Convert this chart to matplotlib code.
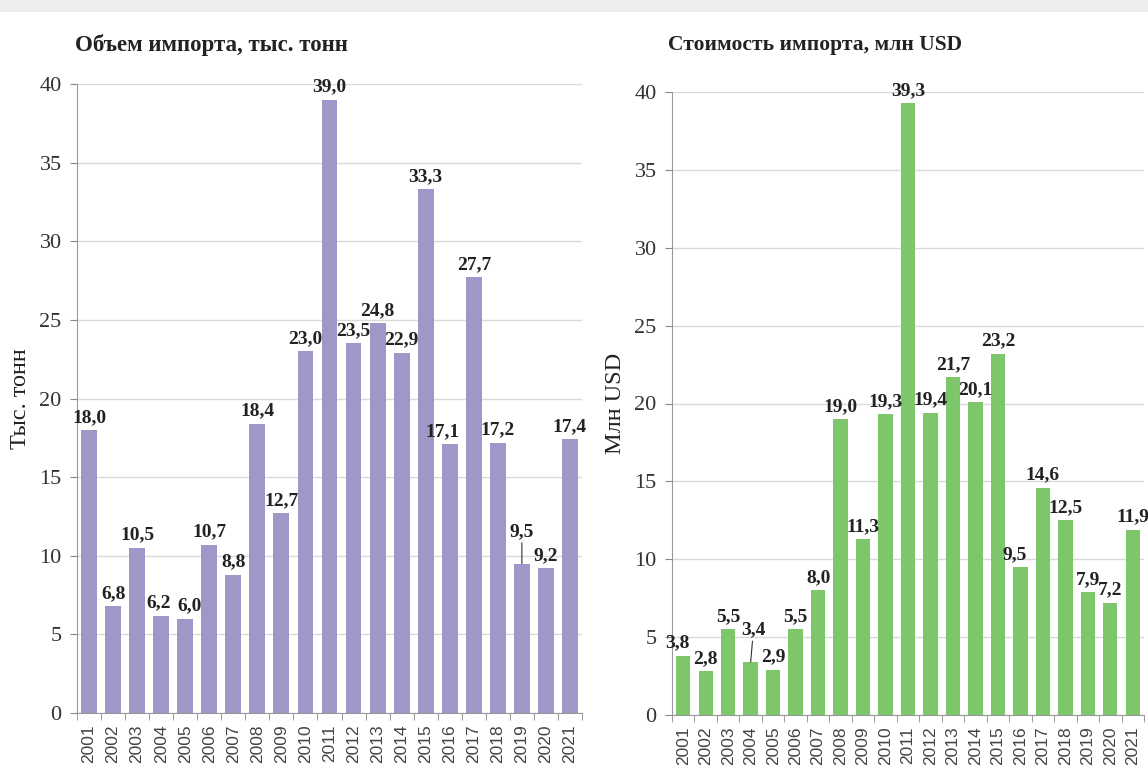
import matplotlib
matplotlib.use("Agg")
import matplotlib.pyplot as plt
from matplotlib.patches import Rectangle
import numpy as np

years = [str(y) for y in range(2001, 2022)]
volume = [18.0, 6.8, 10.5, 6.2, 6.0, 10.7, 8.8, 18.4, 12.7, 23.0, 39.0,
          23.5, 24.8, 22.9, 33.3, 17.1, 27.7, 17.2, 9.5, 9.2, 17.4]
value = [3.8, 2.8, 5.5, 3.4, 2.9, 5.5, 8.0, 19.0, 11.3, 19.3, 39.3,
         19.4, 21.7, 20.1, 23.2, 9.5, 14.6, 12.5, 7.9, 7.2, 11.9]

title_left = "Объем импорта, тыс. тонн"
title_right = "Стоимость импорта, млн USD"
ylabel_left = "Тыс. тонн"
ylabel_right = "Млн USD"

SERIF = ["Liberation Serif", "DejaVu Serif"]
SANS = ["Liberation Sans", "DejaVu Sans"]

fig = plt.figure(figsize=(11.48, 7.71), dpi=100)
fig.patches.append(Rectangle((0, 1 - 12 / 771), 1, 12 / 771, transform=fig.transFigure,
                             facecolor="#eeeeee", edgecolor="none", zorder=0))

ax1 = fig.add_axes([77 / 1148, 1 - 713 / 771, (582 - 77) / 1148, (713 - 84) / 771])
ax2 = fig.add_axes([672 / 1148, 1 - 715 / 771, (1144 - 672) / 1148, (715 - 92) / 771])


def style(ax, data, color, width, ylabel, title, title_x, title_size, special):
    x = np.arange(len(years))
    ax.bar(x, data, width=width, color=color, zorder=2)
    ax.set_xlim(-0.5, len(years) - 0.5)
    ax.set_ylim(0, 40)
    ax.set_yticks(range(0, 41, 5))
    ax.set_yticklabels([str(v) for v in range(0, 41, 5)], family=SERIF, fontsize=16, color="#333333")
    ax.set_xticks(x)
    ax.set_xticklabels(years, rotation=90, family=SANS, fontsize=12.5, color="#444444")
    ax.set_xticks(np.arange(-0.5, len(years)), minor=True)
    ax.tick_params(axis="x", which="major", length=0, pad=8)
    ax.tick_params(axis="x", which="minor", length=5, color="#888888")
    ax.tick_params(axis="y", length=5, color="#888888", pad=6)
    ax.grid(axis="y", color="#d9d9d9", linewidth=1, zorder=0)
    for s in ["top", "right"]:
        ax.spines[s].set_visible(False)
    for s in ["left", "bottom"]:
        ax.spines[s].set_color("#999999")
    ax.set_ylabel(ylabel, family=SERIF, fontsize=17.5, color="#222222", labelpad=6)
    for i, v in enumerate(data):
        dx, dy, line = special.get(i, (0, 0, False))
        lbl = f"{v:.1f}".replace(".", ",")
        kw = dict(xy=(i, v), xytext=(dx, 3 + dy), textcoords="offset points",
                  ha="center", va="bottom", family=SERIF, fontsize=14, fontweight="bold",
                  color="#222222")
        if line:
            kw["arrowprops"] = dict(arrowstyle="-", color="#333333", lw=0.8,
                                    shrinkA=0, shrinkB=0)
        ax.annotate(lbl, **kw)
    fig.text(title_x, 1 - 45 / 771, title, family=SERIF, fontsize=title_size, fontweight="bold",
             ha="left", va="center", color="#222222")


style(ax1, volume, "#9e97c8", 0.66, ylabel_left, title_left, 75 / 1148, 16.5,
      {18: (0, 14, True), 15: (-5, 0, False), 3: (-2, 0, False), 4: (3, 0, False)})
style(ax2, value, "#7dc66b", 0.64, ylabel_right, title_right, 668 / 1148, 15.5,
      {3: (2, 14, True), 0: (-4, 0, False), 15: (-4, 0, False)})

fig.savefig("out.png", dpi=100)
